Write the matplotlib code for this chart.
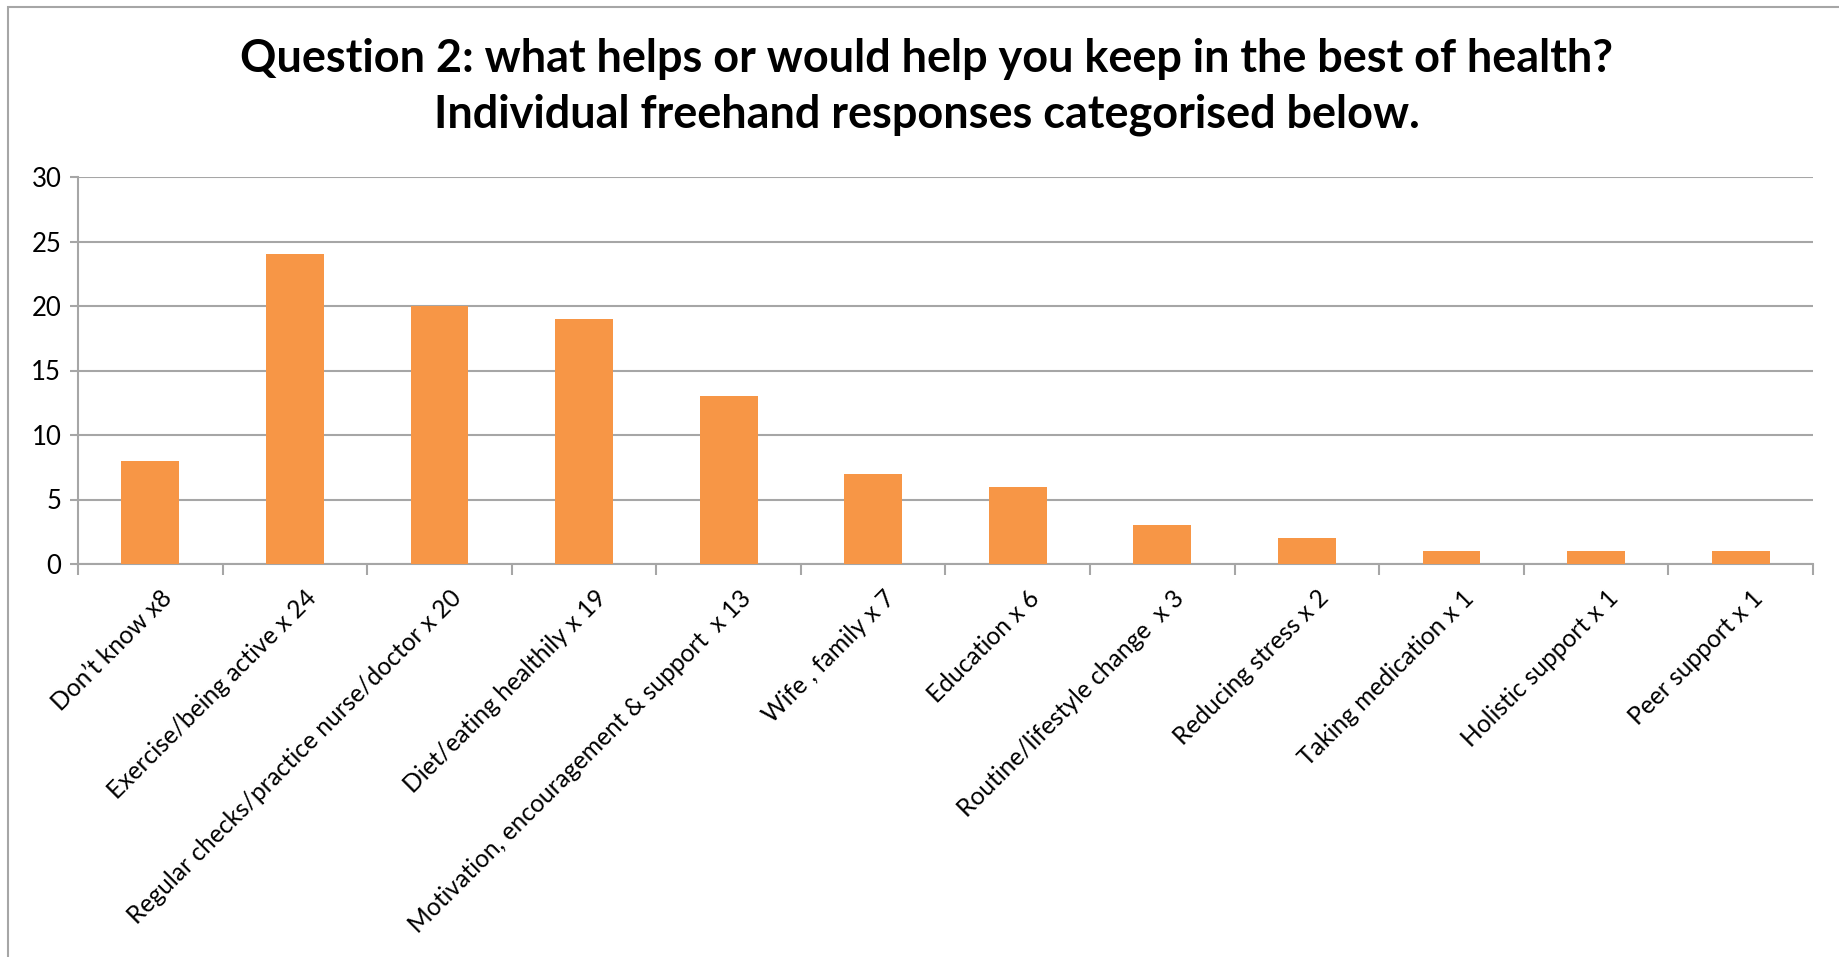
import numpy as np
import matplotlib
matplotlib.use("Agg")
import matplotlib.pyplot as plt
import matplotlib.transforms as mtransforms
from matplotlib.patches import Rectangle

plt.rcParams['font.family'] = ['Lato', 'DejaVu Sans']

# data
categories = [
    "Don\u2019t know x8",
    "Exercise/being active x 24",
    "Regular checks/practice nurse/doctor x 20",
    "Diet/eating healthily x 19",
    "Motivation, encouragement & support  x 13",
    "Wife , family x 7",
    "Education x 6",
    "Routine/lifestyle change  x 3",
    "Reducing stress x 2",
    "Taking medication x 1",
    "Holistic support x 1",
    "Peer support x 1",
]
counts = [8, 24, 20, 19, 13, 7, 6, 3, 2, 1, 1, 1]
yticks = [0, 5, 10, 15, 20, 25, 30]

title1 = "Question 2: what helps or would help you keep in the best of health?"
title2 = "Individual freehand responses categorised below."

W, H = 1839, 957
fig = plt.figure(figsize=(W / 100, H / 100), dpi=100)
grey = "#A6A6A6"

# chart-area border (runs off the right and bottom edges)
fig.patches.append(Rectangle((8 / W, -0.05), 1.1, 1 - 7 / H + 0.05,
                             transform=fig.transFigure, fill=False,
                             edgecolor=grey, lw=1.5))

ax = fig.add_axes([78 / W, 1 - 564 / H, (1813 - 78) / W, (564 - 177) / H])
x = np.arange(len(categories))
ax.bar(x, counts, width=0.4, color="#F79646", zorder=3)

ax.set_xlim(-0.5, len(categories) - 0.5)
ax.set_ylim(0, 30)
ax.set_yticks(yticks)
ax.yaxis.grid(True, color=grey, lw=1.5, zorder=0)
ax.tick_params(axis='y', length=6, width=1.5, color=grey, labelsize=18.5, pad=6)

ax.set_xticks(x)
ax.set_xticklabels(categories, rotation=45, ha='right', rotation_mode='anchor',
                   fontsize=17.7)
ax.tick_params(axis='x', which='major', length=0, pad=16)
ax.set_xticks(np.arange(len(categories) + 1) - 0.5, minor=True)
ax.tick_params(axis='x', which='minor', length=8, width=1.5, color=grey)
shift = mtransforms.ScaledTranslation(10 / 100, 0, fig.dpi_scale_trans)
for lab in ax.get_xticklabels():
    lab.set_transform(lab.get_transform() + shift)

for s in ['top', 'right']:
    ax.spines[s].set_visible(False)
for s in ['left', 'bottom']:
    ax.spines[s].set_color(grey)
    ax.spines[s].set_linewidth(1.5)

fig.text(927 / W, 1 - 72 / H, title1, ha='center', va='baseline',
         fontsize=32.4, fontweight='bold')
fig.text(927 / W, 1 - 128 / H, title2, ha='center', va='baseline',
         fontsize=32.4, fontweight='bold')

fig.savefig("out.png", dpi=100)
